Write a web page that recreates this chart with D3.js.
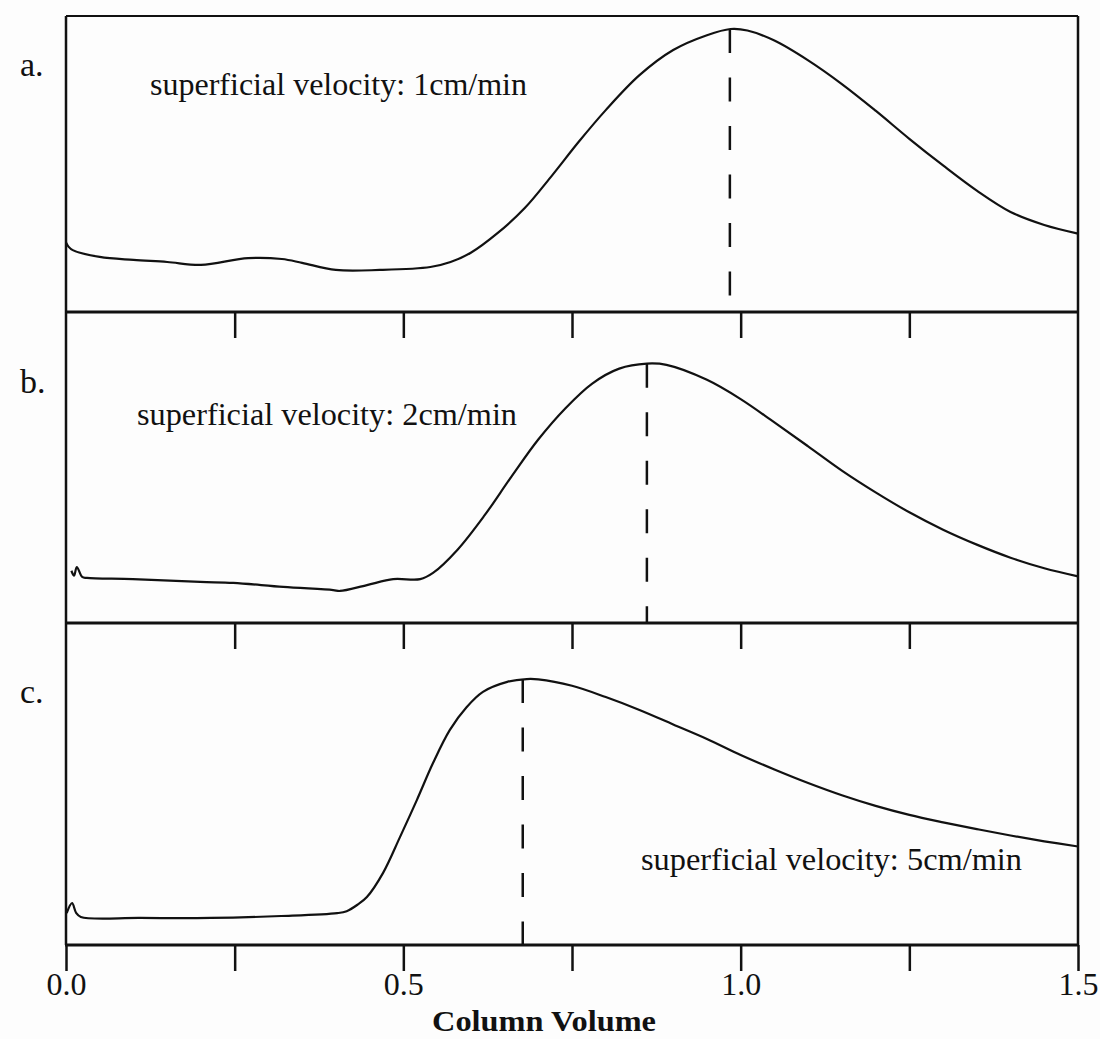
<!DOCTYPE html>
<html>
<head>
<meta charset="utf-8">
<script src="https://cdn.jsdelivr.net/npm/d3@7"></script>
<style>
  html, body { margin: 0; padding: 0; background: #fdfdfd; }
  svg { display: block; }
  text { font-family: "Liberation Serif", "Times New Roman", serif; fill: #111; }
</style>
</head>
<body>
<svg id="chart" width="1100" height="1039"></svg>
<script>
// ---- data (column volume vs detector signal, each panel normalised 0..1) ----
const volA = [0.0, 0.004, 0.01, 0.05, 0.1, 0.15, 0.2, 0.27, 0.32, 0.35, 0.40, 0.465, 0.54, 0.57, 0.60, 0.64, 0.68, 0.72, 0.76, 0.80, 0.85, 0.90, 0.95, 0.985, 1.01, 1.05, 1.10, 1.15, 1.20, 1.25, 1.30, 1.35, 1.40, 1.45, 1.5];
const sigA = [0.235, 0.22, 0.209, 0.186, 0.176, 0.169, 0.159, 0.182, 0.179, 0.166, 0.142, 0.142, 0.152, 0.169, 0.200, 0.267, 0.351, 0.460, 0.575, 0.682, 0.800, 0.885, 0.935, 0.956, 0.951, 0.917, 0.850, 0.770, 0.680, 0.585, 0.495, 0.410, 0.338, 0.294, 0.265];

const volB = [0.008, 0.012, 0.016, 0.024, 0.031, 0.099, 0.199, 0.248, 0.322, 0.396, 0.406, 0.446, 0.485, 0.525, 0.544, 0.58, 0.62, 0.66, 0.70, 0.74, 0.78, 0.82, 0.861, 0.89, 0.95, 1.0, 1.05, 1.1, 1.15, 1.2, 1.25, 1.3, 1.35, 1.4, 1.45, 1.5];
const sigB = [0.168, 0.152, 0.180, 0.148, 0.145, 0.141, 0.132, 0.129, 0.116, 0.106, 0.103, 0.122, 0.141, 0.141, 0.161, 0.235, 0.345, 0.470, 0.590, 0.690, 0.770, 0.818, 0.834, 0.830, 0.782, 0.720, 0.645, 0.568, 0.490, 0.420, 0.356, 0.300, 0.252, 0.210, 0.176, 0.150];

const volC = [0.001, 0.009, 0.015, 0.022, 0.11, 0.215, 0.319, 0.402, 0.416, 0.432, 0.446, 0.47, 0.495, 0.52, 0.544, 0.569, 0.594, 0.618, 0.654, 0.683, 0.70, 0.75, 0.80, 0.85, 0.90, 0.95, 1.0, 1.05, 1.1, 1.15, 1.2, 1.25, 1.3, 1.35, 1.4, 1.45, 1.5];
const sigC = [0.099, 0.130, 0.100, 0.087, 0.084, 0.084, 0.090, 0.099, 0.105, 0.125, 0.149, 0.224, 0.335, 0.450, 0.565, 0.668, 0.739, 0.786, 0.817, 0.826, 0.825, 0.805, 0.770, 0.730, 0.685, 0.640, 0.590, 0.545, 0.503, 0.465, 0.432, 0.404, 0.381, 0.360, 0.340, 0.322, 0.306];

const peakVol = [0.984, 0.861, 0.677];
const panelLabels = ["a.", "b.", "c."];
const velocityLabels = ["superficial velocity: 1cm/min", "superficial velocity: 2cm/min", "superficial velocity: 5cm/min"];
const tickVals = [0, 0.25, 0.5, 0.75, 1.0, 1.25, 1.5];
const tickLabels = ["0.0", "", "0.5", "", "1.0", "", "1.5"];
const xTitle = "Column Volume";

// ---- layout ----
const svg = d3.select("#chart");
const left = 66, right = 1078, frameTop = 16;
const panels = [
  { top: 16,  bottom: 312, vol: volA, sig: sigA, lab: { x: 20, y: 76 },  txt: { x: 150, y: 95,  w: 377 } },
  { top: 312, bottom: 623, vol: volB, sig: sigB, lab: { x: 20, y: 393 }, txt: { x: 137, y: 425, w: 380 } },
  { top: 623, bottom: 945, vol: volC, sig: sigC, lab: { x: 20, y: 703 }, txt: { x: 641, y: 870, w: 381 } }
];
const x = d3.scaleLinear().domain([0, 1.5]).range([left, right]);

panels.forEach((p, i) => {
  const y = d3.scaleLinear().domain([0, 1]).range([p.bottom, p.top]);
  const data = p.vol.map((v, k) => [v, p.sig[k]]);
  const line = d3.line().x(d => x(d[0])).y(d => y(d[1])).curve(d3.curveCatmullRom.alpha(0.5));

  svg.append("path").datum(data)
    .attr("d", line)
    .attr("fill", "none").attr("stroke", "#111").attr("stroke-width", 2.2)
    .attr("stroke-linejoin", "round");

  // dashed peak marker
  const peakSig = d3.max(p.sig);
  svg.append("line")
    .attr("x1", x(peakVol[i])).attr("x2", x(peakVol[i]))
    .attr("y1", y(peakSig)).attr("y2", y(0))
    .attr("stroke", "#111").attr("stroke-width", 2.5)
    .attr("stroke-dasharray", "24,24.5");

  // panel letter
  svg.append("text").attr("x", p.lab.x).attr("y", p.lab.y)
    .attr("font-size", 34).text(panelLabels[i]);

  // velocity annotation
  svg.append("text").attr("x", p.txt.x).attr("y", p.txt.y)
    .attr("font-size", 31)
    .attr("textLength", p.txt.w).attr("lengthAdjust", "spacingAndGlyphs")
    .text(velocityLabels[i]);

  // bottom rule of the panel with hanging ticks
  const isLast = i === panels.length - 1;
  const axis = d3.axisBottom(x)
    .tickValues(isLast ? tickVals : tickVals.slice(1, -1))
    .tickSize(26)
    .tickFormat(isLast ? ((d, k) => tickLabels[k]) : () => "");
  const g = svg.append("g").attr("transform", `translate(0,${p.bottom})`).call(axis);
  g.select(".domain").remove();
  g.selectAll(".tick line").attr("stroke", "#111").attr("stroke-width", 2.5);
  g.selectAll(".tick text")
    .attr("y", 50).attr("dy", 0)
    .attr("font-size", 32)
    .attr("font-family", "Liberation Serif, Times New Roman, serif")
    .attr("fill", "#111");

  svg.append("line")
    .attr("x1", left - 1).attr("x2", right + 1)
    .attr("y1", p.bottom).attr("y2", p.bottom)
    .attr("stroke", "#111").attr("stroke-width", 3);
});

// outer frame
svg.append("line").attr("x1", left).attr("x2", right).attr("y1", frameTop).attr("y2", frameTop)
  .attr("stroke", "#111").attr("stroke-width", 2.2);
svg.append("line").attr("x1", left).attr("x2", left).attr("y1", frameTop).attr("y2", 945)
  .attr("stroke", "#111").attr("stroke-width", 2.5);
svg.append("line").attr("x1", right).attr("x2", right).attr("y1", frameTop).attr("y2", 945)
  .attr("stroke", "#111").attr("stroke-width", 2.5);

// x-axis title
svg.append("text").attr("x", 544).attr("y", 1031)
  .attr("text-anchor", "middle").attr("font-size", 30).attr("font-weight", "bold")
  .attr("textLength", 224).attr("lengthAdjust", "spacingAndGlyphs")
  .text(xTitle);
</script>
</body>
</html>
